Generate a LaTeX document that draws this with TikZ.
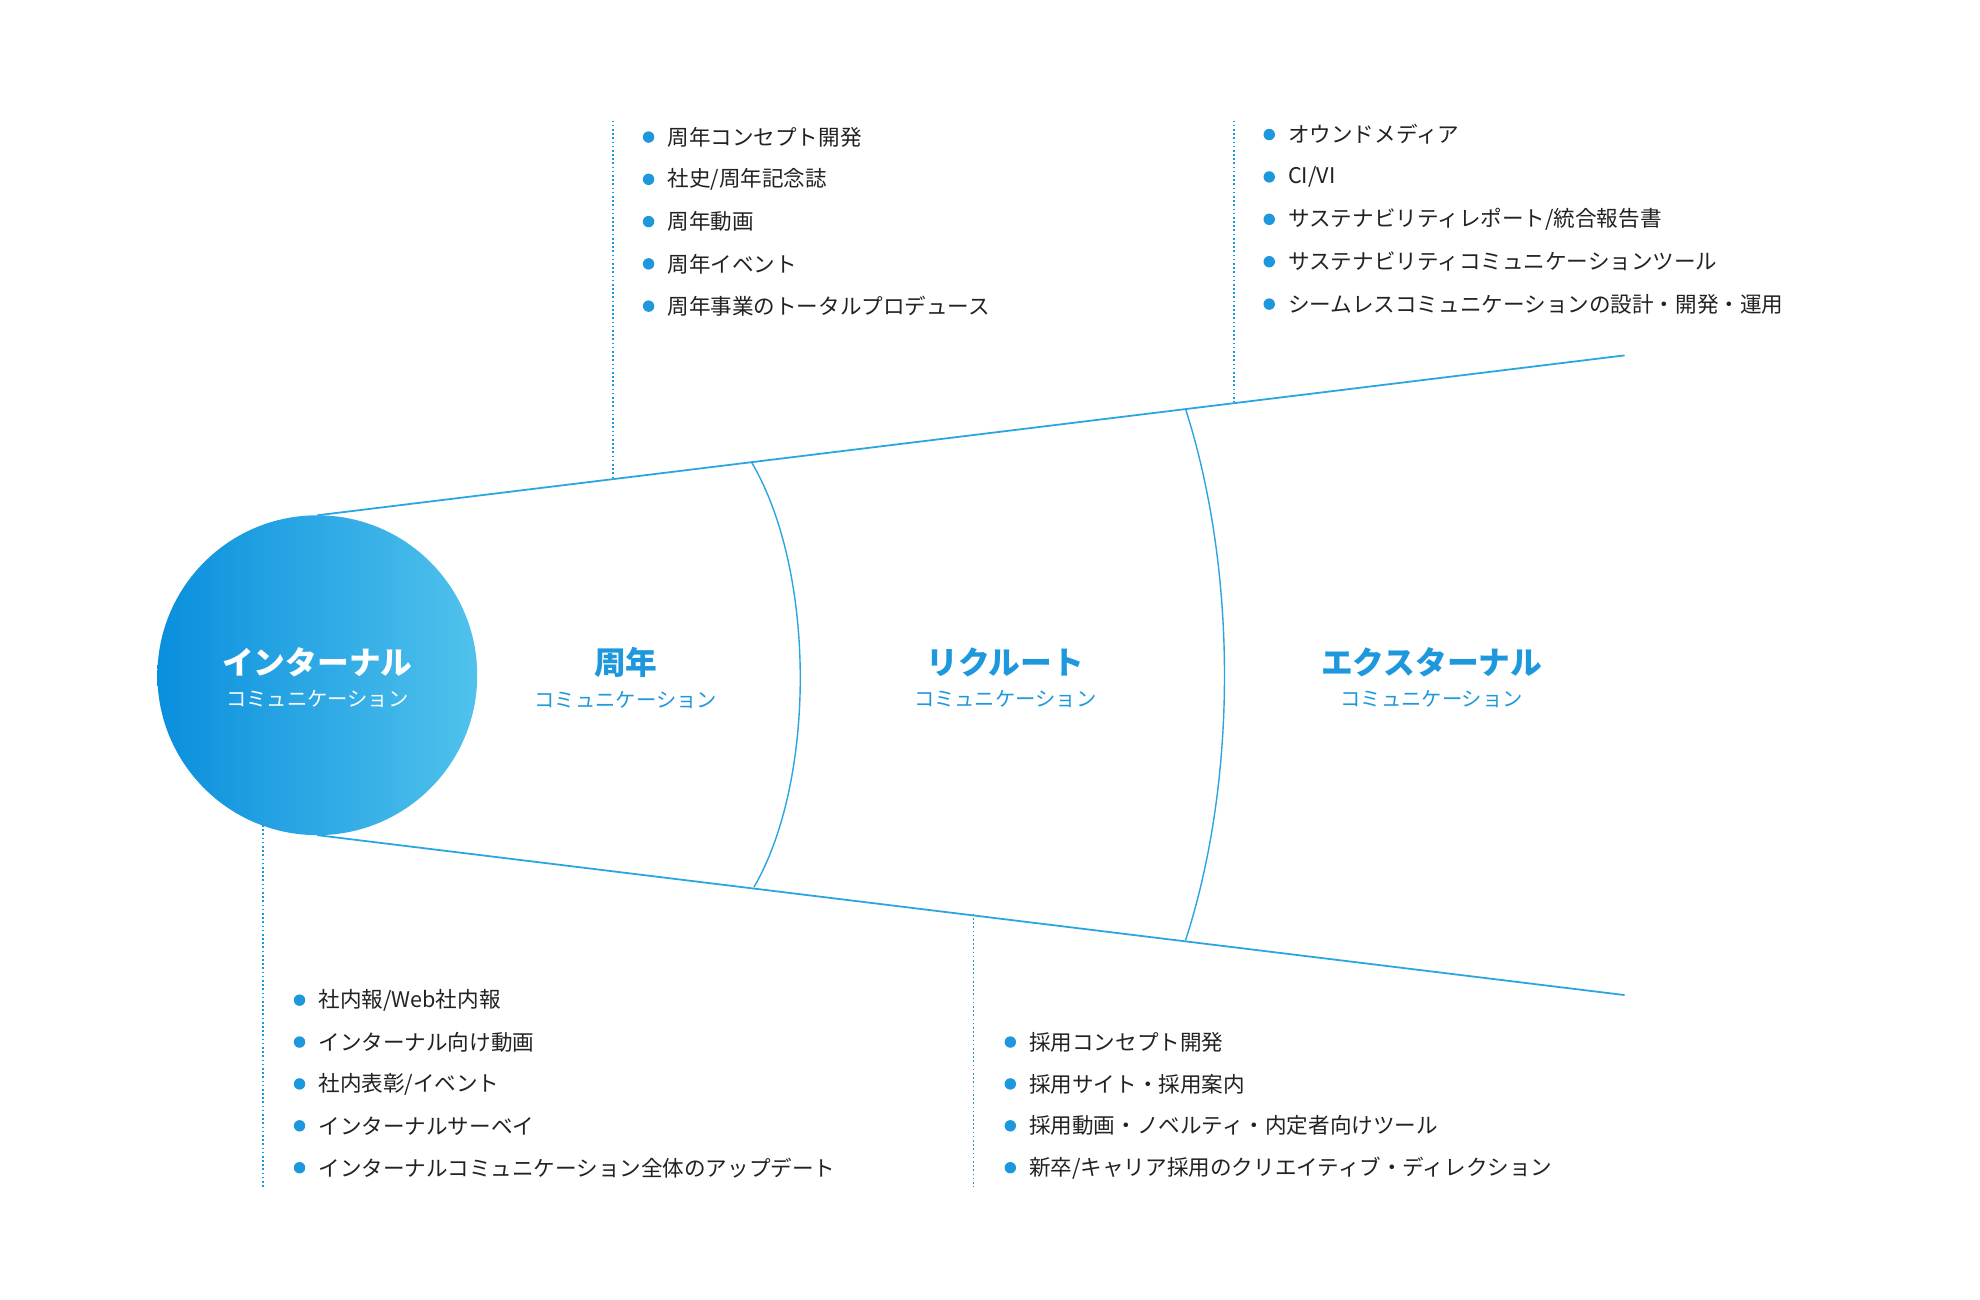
\documentclass[tikz,border=0pt]{standalone}
\usepackage{fontspec}
\setmainfont{Noto Sans CJK JP}
\usetikzlibrary{positioning}
\definecolor{lineblue}{HTML}{2AA5E2}
\definecolor{dotblue}{HTML}{1E98DC}
\definecolor{darkblue}{HTML}{0A8FDD}
\definecolor{lightblue}{HTML}{50C2EC}
\definecolor{txt}{HTML}{222222}
\tikzset{
  edge/.style={draw=lineblue,line width=1.4pt},
  guide/.style={draw=dotblue,line width=1.3pt,dotted},
  item/.style={anchor=west,inner sep=0pt,text=txt,font=\fontsize{17}{20}\selectfont},
  bul/.style={circle,fill=dotblue,inner sep=0pt,minimum size=9pt},
  title/.style={font=\bfseries\fontsize{25}{28}\selectfont,text=dotblue,inner sep=0pt},
  sub/.style={font=\fontsize{16}{18}\selectfont,text=dotblue,inner sep=0pt}
}
\begin{document}
\begin{tikzpicture}[x=1pt,y=-1pt]
  \useasboundingbox[fill=white] (0,0) rectangle (1560,1024);
  % funnel
  \coordinate (ut) at (250,406);
  \coordinate (lt) at (250,658);
  \coordinate (ue) at (1280,280);
  \coordinate (le) at (1280,784);
  \draw[edge] (ut) -- (ue);
  \draw[edge] (lt) -- (le);
  \coordinate (a1) at (592,364);
  \coordinate (b1) at (594,699);
  \coordinate (a2) at (934,322);
  \coordinate (b2) at (934,741);
  \draw[edge,line width=1.1pt] (a1) .. controls (643,450) and (643,615) .. (b1);
  \draw[edge,line width=1.1pt] (a2) .. controls (975,450) and (975,615) .. (b2);
  % circle
  \node[circle,minimum size=252pt,inner sep=0pt,left color=darkblue,right color=lightblue] (inner) at (250,532) {};
  \node[title,text=white] (t0) at (250,522) {インターナル};
  \node[sub,text=white,below=10pt of t0] {コミュニケーション};
  \node[title] (t1) at (493,522) {周年};
  \node[sub,below=10pt of t1] {コミュニケーション};
  \node[title] (t2) at (792,522) {リクルート};
  \node[sub,below=10pt of t2] {コミュニケーション};
  \node[title] (t3) at (1128,522) {エクスターナル};
  \node[sub,below=10pt of t3] {コミュニケーション};
  % guides
  \coordinate (g1a) at (483,95);  \coordinate (g1b) at (483,376);
  \coordinate (g2a) at (972,95);  \coordinate (g2b) at (972,317);
  \coordinate (g3a) at (207,650); \coordinate (g3b) at (207,935);
  \coordinate (g4a) at (767,720); \coordinate (g4b) at (767,935);
  \draw[guide] (g1a) -- (g1b);
  \draw[guide] (g2a) -- (g2b);
  \draw[guide] (g3a) -- (g3b);
  \draw[guide] (g4a) -- (g4b);
  % lists
  \foreach \t [count=\i] in {周年コンセプト開発,社史/周年記念誌,周年動画,周年イベント,周年事業のトータルプロデュース}
    {\node[bul] (pa\i) at (511,{108+33.3*(\i-1)}) {};
     \node[item,right=10pt of pa\i] {\t};}
  \foreach \t [count=\i] in {オウンドメディア,CI/VI,サステナビリティレポート/統合報告書,サステナビリティコミュニケーションツール,シームレスコミュニケーションの設計・開発・運用}
    {\node[bul] (pb\i) at (1000,{106+33.4*(\i-1)}) {};
     \node[item,right=10pt of pb\i] {\t};}
  \foreach \t [count=\i] in {社内報/Web社内報,インターナル向け動画,社内表彰/イベント,インターナルサーベイ,インターナルコミュニケーション全体のアップデート}
    {\node[bul] (pc\i) at (236,{788+33*(\i-1)}) {};
     \node[item,right=10pt of pc\i] {\t};}
  \foreach \t [count=\i] in {採用コンセプト開発,採用サイト・採用案内,採用動画・ノベルティ・内定者向けツール,新卒/キャリア採用のクリエイティブ・ディレクション}
    {\node[bul] (pd\i) at (796,{821+33*(\i-1)}) {};
     \node[item,right=10pt of pd\i] {\t};}
\end{tikzpicture}
\end{document}
